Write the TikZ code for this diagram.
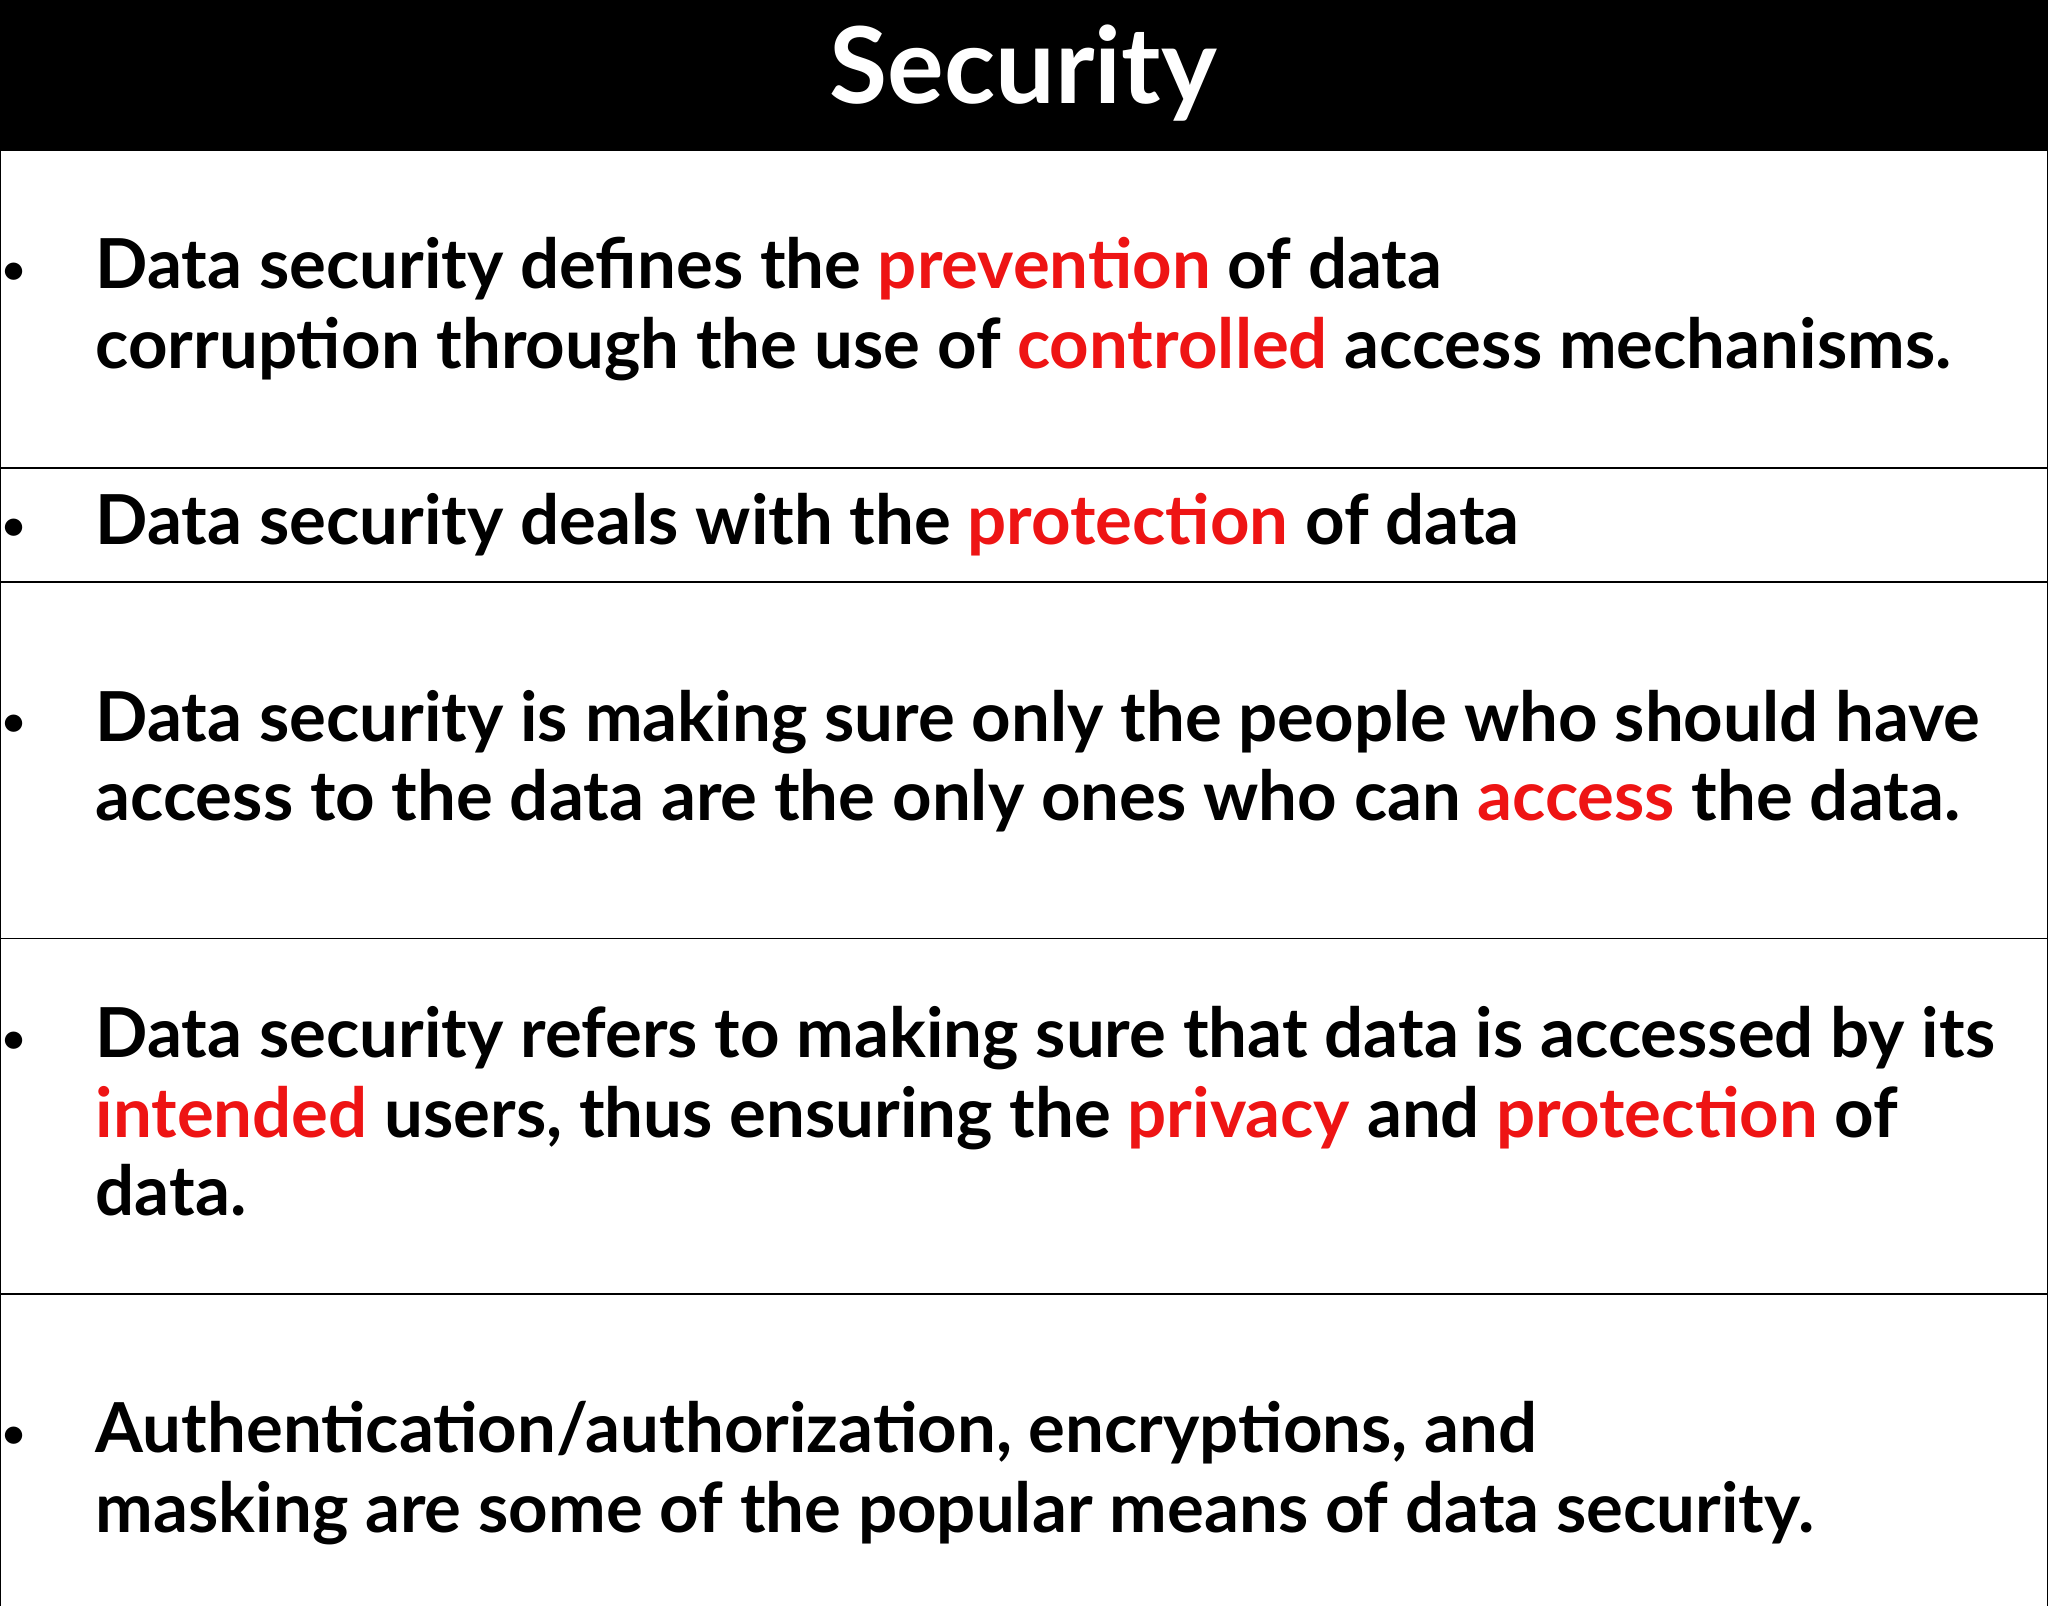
\documentclass[tikz,border=0pt]{standalone}
\usepackage{fontspec}
\setmainfont{Lato}
\begin{document}
\begin{tikzpicture}[x=1pt,y=-1pt,
  txt/.style={anchor=base west,inner sep=0pt,font=\bfseries\fontsize{52}{60}\selectfont},
  bul/.style={anchor=base west,inner sep=0pt,font=\bfseries\fontsize{30}{36}\selectfont},
  rule/.style={line width=1.2pt}]
\definecolor{hl}{RGB}{238,20,20}
\newcommand{\hl}[1]{\textcolor{hl}{#1}}
\useasboundingbox (0,0) rectangle (1545,1211);
\fill[black] (0,0) rectangle (1545,113);
\node[font=\bfseries\fontsize{80}{90}\selectfont,text=white,inner sep=0pt,anchor=base] (title) at (772,78) {Security};
\draw[rule] (0,113) rectangle (1545,1215);
\foreach \y in {353,439,708,976} \draw[rule] (0,\y) -- (1545,\y);
\node[bul] (b1) at (2,214) {•};
\node[txt] (l1a) at (72,218) {Data security defines the \hl{prevention} of data};
\node[txt] (l1b) at (72,278) {corruption through the use of \hl{controlled} access mechanisms.};
\node[bul] (b2) at (2,407) {•};
\node[txt] (l2) at (72,411) {Data security deals with the \hl{protection} of data};
\node[bul] (b3) at (2,555) {•};
\node[txt] (l3a) at (72,559) {Data security is making sure only the people who should have};
\node[txt] (l3b) at (72,619) {access to the data are the only ones who can \hl{access} the data.};
\node[bul] (b4) at (2,794) {•};
\node[txt] (l4a) at (72,798) {Data security refers to making sure that data is accessed by its};
\node[txt] (l4b) at (72,858) {\hl{intended} users, thus ensuring the \hl{privacy} and \hl{protection} of};
\node[txt] (l4c) at (72,917) {data.};
\node[bul] (b5) at (2,1092) {•};
\node[txt] (l5a) at (72,1096) {Authentication/authorization, encryptions, and};
\node[txt] (l5b) at (72,1156) {masking are some of the popular means of data security.};
\end{tikzpicture}
\end{document}
